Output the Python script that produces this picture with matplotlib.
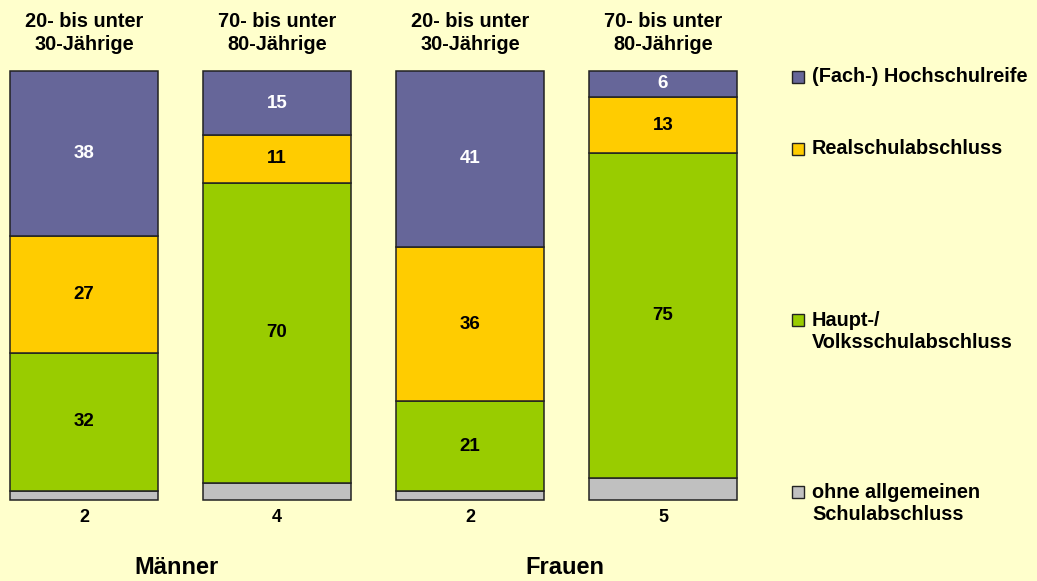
import matplotlib
matplotlib.use("Agg")
import matplotlib.pyplot as plt
from matplotlib.patches import Rectangle
import numpy as np

plt.rcParams['font.family'] = ['Liberation Sans', 'DejaVu Sans']

# Data
headers = ["20- bis unter\n30-Jährige", "70- bis unter\n80-Jährige",
           "20- bis unter\n30-Jährige", "70- bis unter\n80-Jährige"]
groups = ["Männer", "Frauen"]
categories = ["ohne allgemeinen\nSchulabschluss", "Haupt-/\nVolksschulabschluss",
              "Realschulabschluss", "(Fach-) Hochschulreife"]
ohne = [2, 4, 2, 5]
haupt = [32, 70, 21, 75]
real = [27, 11, 36, 13]
hoch = [38, 15, 41, 6]

colors = ["#C0C0C0", "#99CC00", "#FFCC00", "#666699"]
label_colors = ["black", "black", "black", "white"]
bg = "#FFFFCC"

W, H = 1037, 581
fig = plt.figure(figsize=(W / 100, H / 100), dpi=100, facecolor=bg)
ax = fig.add_axes([10 / W, (H - 500) / H, 727 / W, 429 / H])
ax.set_facecolor(bg)

series = np.array([ohne, haupt, real, hoch], dtype=float)
totals = series.sum(axis=0)
shares = series / totals * 100
x = np.arange(len(headers))
width = 148 / 193

bottom = np.zeros(len(x))
for i, (vals, sh) in enumerate(zip(series, shares)):
    bars = ax.bar(x, sh, width, bottom=bottom, color=colors[i], edgecolor="#222222",
                  linewidth=1.1, zorder=2)
    for b in bars:
        b.set_clip_on(False)
    for j in range(len(x)):
        if i == 0:
            ax.text(x[j], -4.1, f"{int(vals[j])}", ha="center", va="center",
                    fontsize=13, fontweight="bold", color="black", clip_on=False)
        else:
            ax.text(x[j], bottom[j] + sh[j] / 2, f"{int(vals[j])}", ha="center",
                    va="center", fontsize=13.5, fontweight="bold", color=label_colors[i])
    bottom += sh

ax.set_xlim(-74 / 193, 3 + 74 / 193)
ax.set_ylim(0, 100)
ax.axis("off")

# Column headers
for j in range(len(x)):
    ax.text(x[j], 100 + (71 - 33) / 4.29, headers[j], ha="center", va="center",
            fontsize=14.3, fontweight="bold", linespacing=1.22, clip_on=False)

# Group labels
fig.text(177 / W, 1 - 567 / H, groups[0], ha="center", va="center",
         fontsize=17, fontweight="bold")
fig.text(565 / W, 1 - 567 / H, groups[1], ha="center", va="center",
         fontsize=17, fontweight="bold")

# Legend
leg_y = [492, 320, 149, 77]
line_h = 23
for i in range(4):
    y = leg_y[i]
    nlines = categories[i].count("\n") + 1
    fig.patches.append(Rectangle((792 / W, 1 - (y + 6) / H), 12 / W, 12 / H,
                                 transform=fig.transFigure, facecolor=colors[i],
                                 edgecolor="#222222", linewidth=1.0))
    fig.text(812 / W, 1 - (y + (nlines - 1) * line_h / 2) / H, categories[i],
             ha="left", va="center", fontsize=14.3, fontweight="bold",
             linespacing=1.15)

fig.savefig("out.png", dpi=100, facecolor=bg)
